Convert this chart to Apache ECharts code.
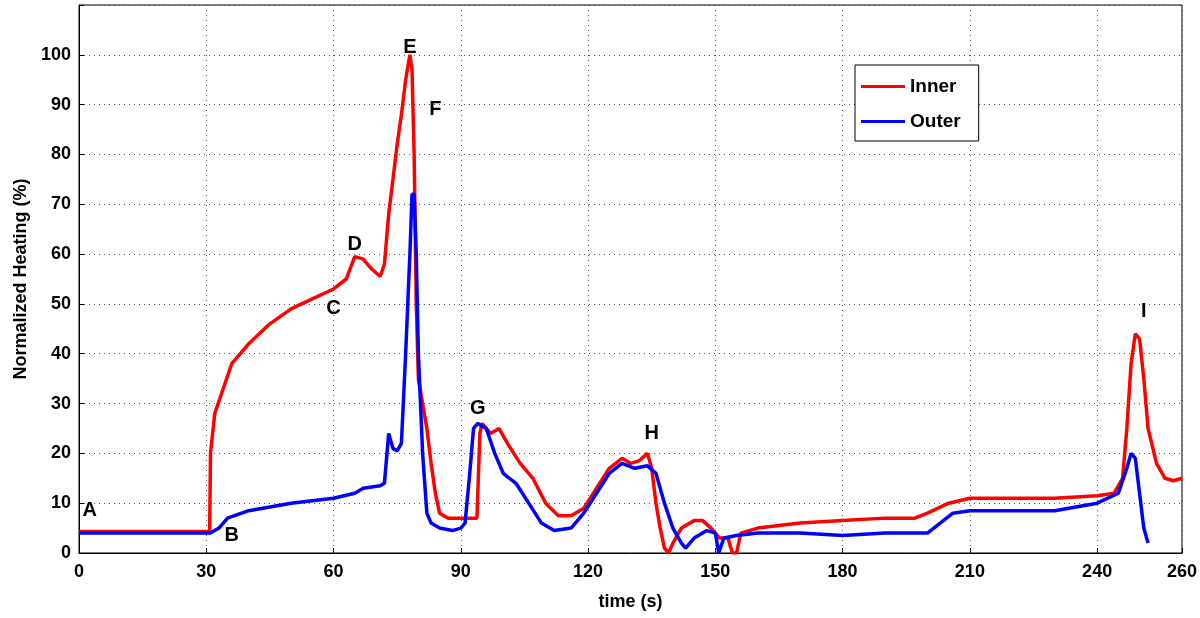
<!DOCTYPE html>
<html>
<head>
<meta charset="utf-8">
<script src="https://cdn.jsdelivr.net/npm/echarts@6/dist/echarts.min.js"></script>
<style>html,body{margin:0;padding:0;background:#fff}#chart{width:1200px;height:618px}</style>
</head>
<body>
<div id="chart"></div>
<script>
// [time (s), normalized heating (%)]
const inner = [[0,4.3],[30.8,4.3],[31,20],[32,28],[34,33],[36,38],[40,42],[45,46],[50,49],[55,51],[60,53],[63,55],[65,59.5],[67,59],[69,57],[71,55.5],[72,58],[73,68],[74,75],[75,82],[76,88],[77,95],[78,100],[78.5,97],[79,80],[79.5,50],[80,35],[81,30],[82,25],[83,18],[84,12],[85,8],[87,7],[90,7],[93.8,7],[94.5,24],[95,26],[97,24],[99,25],[101,22],[104,18],[107,15],[110,10],[113,7.5],[116,7.5],[119,9],[122,13],[125,17],[128,19],[130,18],[132,18.5],[134,20],[135,17],[136,10],[137,5],[138,1],[139,0],[140,2],[142,5],[145,6.5],[147,6.5],[149,5],[151,3],[153,3],[154,0],[155,0],[156,4],[160,5],[170,6],[180,6.5],[190,7],[197,7],[200,8],[205,10],[210,11],[220,11],[230,11],[240,11.5],[244,12],[246,15],[247,25],[248,38],[249,44],[250,43],[251,35],[252,25],[254,18],[256,15],[258,14.5],[260,15]]
const outer = [[0,4],[31,4],[33,5],[35,7],[40,8.5],[50,10],[60,11],[65,12],[67,13],[71,13.5],[72,14],[73,24],[74,21],[75,20.5],[76,22],[77,40],[78,60],[78.5,72],[79,72],[79.5,60],[80,40],[81,20],[82,8],[83,6],[85,5],[88,4.5],[90,5],[91,6],[92,15],[93,25],[94,26],[96,25],[98,20],[100,16],[103,14],[106,10],[109,6],[112,4.5],[116,5],[119,8],[122,12],[125,16],[128,18],[131,17],[134,17.5],[136,16],[138,10],[140,5],[142,2],[143,1],[145,3],[148,4.5],[150,4],[150.8,0],[152,3],[155,3.5],[160,4],[170,4],[180,3.5],[190,4],[200,4],[203,6],[206,8],[210,8.5],[220,8.5],[230,8.5],[240,10],[245,12],[247,17],[248,20],[249,19],[250,12],[251,5],[252,2]]
// point annotations [time, value, text]
const notes = [[2.5,8.5,'A'],[36,3.5,'B'],[60,49,'C'],[65,62,'D'],[78,101.5,'E'],[84,89,'F'],[94,29,'G'],[135,24,'H'],[251,48.5,'I']]
const xTicks = [0, 30, 60, 90, 120, 150, 180, 210, 240, 260]

const font = 'Liberation Sans'
const chart = echarts.init(document.getElementById('chart'))
chart.setOption({
  animation: false,
  textStyle: { fontFamily: font },
  grid: { left: 79, right: 17, top: 5, bottom: 65, show: true, borderColor: '#000', borderWidth: 1 },
  legend: {
    data: ['Inner', 'Outer'], orient: 'vertical', left: 855, top: 65,
    backgroundColor: '#fff', borderColor: '#000', borderWidth: 1, padding: [12, 18, 10, 6],
    itemWidth: 44, itemHeight: 3, itemGap: 16, icon: 'rect',
    textStyle: { fontSize: 19, fontWeight: 'bold', color: '#000', fontFamily: font }
  },
  xAxis: {
    type: 'value', min: 0, max: 260,
    name: 'time (s)', nameLocation: 'middle', nameGap: 40,
    nameTextStyle: { fontSize: 18, fontWeight: 'bold', color: '#000' },
    axisLine: { lineStyle: { color: '#000' } },
    axisTick: { inside: true, customValues: xTicks, lineStyle: { color: '#000' } },
    axisLabel: { customValues: xTicks, fontSize: 18, fontWeight: 'bold', color: '#000', margin: 10 },
    splitLine: { show: true, lineStyle: { type: [1, 4], color: '#555' } }
  },
  yAxis: {
    type: 'value', min: 0, max: 110, interval: 10,
    name: 'Normalized Heating (%)', nameLocation: 'middle', nameGap: 48,
    nameTextStyle: { fontSize: 18, fontWeight: 'bold', color: '#000' },
    axisLine: { show: true, lineStyle: { color: '#000' } },
    axisTick: { show: true, inside: true, lineStyle: { color: '#000' } },
    axisLabel: { fontSize: 18, fontWeight: 'bold', color: '#000', formatter: v => (v > 100 ? '' : v) },
    splitLine: { show: true, lineStyle: { type: [1, 4], color: '#555' } }
  },
  series: [
    { name: 'Inner', type: 'line', data: inner, showSymbol: false, color: '#f00', lineStyle: { width: 3.5, color: '#f00' }, z: 2 },
    { name: 'Outer', type: 'line', data: outer, showSymbol: false, color: '#00f', lineStyle: { width: 3.5, color: '#00f' }, z: 3 },
    {
      name: 'notes', type: 'scatter', symbolSize: 1, itemStyle: { opacity: 0 }, silent: true, z: 5,
      data: notes.map(n => ({ value: [n[0], n[1]], label: { formatter: n[2] } })),
      label: { show: true, position: 'inside', fontSize: 20, fontWeight: 'bold', color: '#000', opacity: 1, fontFamily: font }
    }
  ]
})
</script>
</body>
</html>
